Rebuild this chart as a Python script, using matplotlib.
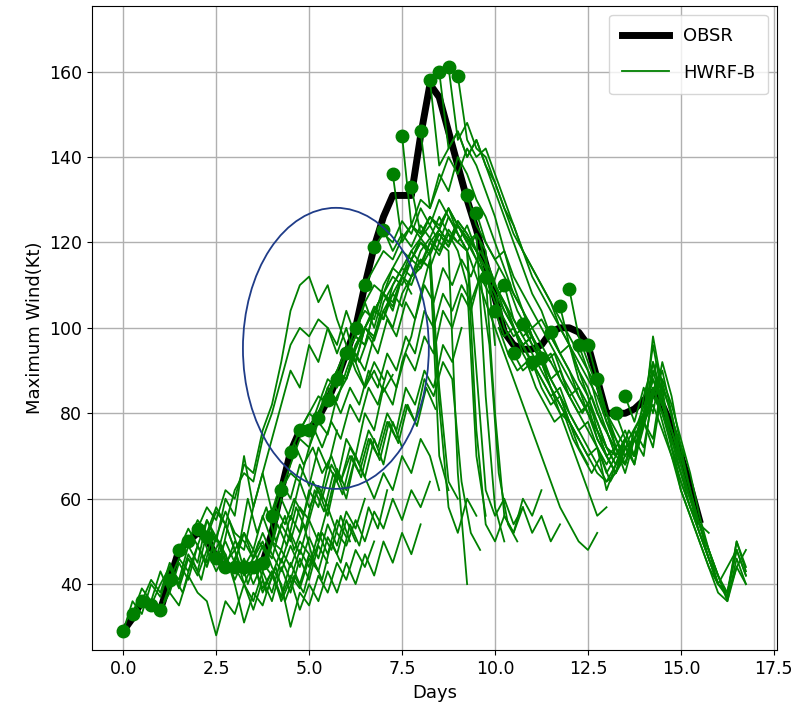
import numpy as np
import matplotlib.pyplot as plt
from matplotlib.patches import Ellipse

# observed max wind (kt), every 6 h from day 0
obs_wind = [29, 32, 36, 35, 34, 41, 48, 50, 52, 51, 46, 44, 44, 44, 44, 45,
            52, 62, 71, 76, 76, 79, 83, 88, 94, 100, 110, 119, 126, 131, 131, 131,
            145, 157, 154, 146, 138, 130, 123, 115, 107, 99, 96, 95, 95, 96, 99, 100,
            100, 99, 96, 88, 80, 80, 80, 81, 83, 85, 82, 77, 70, 63, 55]

# HWRF-B runs: start day and 6-hourly forecast values
run_start = [0.0, 0.25, 0.5, 0.75, 1.0, 1.25, 1.5, 1.75, 2.0, 2.25,
             2.5, 2.75, 3.0, 3.25, 3.5, 3.75,
             4.0, 4.25, 4.5, 4.75, 5.0, 5.25, 5.5, 5.75, 6.0, 6.25, 6.5, 6.75,
             7.0, 7.25, 7.5, 7.75, 8.0, 8.25, 8.5, 8.75, 9.0,
             9.25, 9.5, 9.75, 10.0, 10.25, 10.5, 10.75, 11.0, 11.25, 11.5, 11.75,
             12.0, 12.25, 12.5, 12.75, 13.25, 13.5,
             4.1, 4.6, 5.1, 5.6, 6.1, 3.4, 1.1, 2.1, 9.6, 10.1]

fa00 = [29, 36, 33, 40, 37, 44, 39, 46, 42, 48, 43, 47, 41, 46, 40, 45, 42, 48, 44, 50, 47]
fa01 = [33, 39, 36, 43, 38, 45, 41, 49, 44, 51, 45, 48, 42, 45, 39, 43, 37, 42, 39, 46, 43]
fa02 = [36, 41, 38, 45, 40, 47, 43, 52, 46, 54, 48, 40, 34, 41, 36, 44, 38, 46, 41, 49, 45]
fa03 = [35, 40, 44, 41, 49, 45, 55, 50, 60, 56, 70, 58, 66, 57, 64, 60, 68, 63, 72, 67, 76]
fa04 = [34, 38, 35, 42, 38, 36, 28, 36, 33, 40, 36, 43, 38, 46, 41, 48, 44, 52, 47, 55, 51]
fa05 = [41, 46, 43, 49, 45, 51, 47, 40, 31, 38, 35, 42, 37, 45, 40, 47, 43, 51, 47, 55, 50]
fa06 = [48, 53, 49, 55, 51, 57, 52, 50, 46, 52, 47, 43, 49, 44, 51, 46, 54, 49, 57, 53, 60]
fa07 = [50, 55, 52, 58, 54, 48, 52, 46, 50, 44, 40, 30, 38, 35, 42, 38, 45, 41, 48, 44, 50]
fa08 = [53, 58, 55, 62, 60, 68, 66, 76, 82, 92, 104, 110, 112, 106, 110, 102, 96, 90, 86, 92, 88]
fa09 = [51, 57, 54, 62, 66, 64, 74, 80, 88, 96, 100, 98, 102, 100, 94, 100, 92, 86, 90, 85, 89]

fl00 = [46, 50, 45, 52, 48, 56, 50, 60, 55, 64, 58, 62, 56, 66, 60, 70, 65, 74, 68, 78, 72]
fl01 = [44, 50, 48, 58, 66, 74, 82, 90, 86, 96, 92, 100, 96, 104, 98, 106, 100, 108, 104, 112, 108]
fl02 = [44, 40, 45, 38, 43, 36, 41, 34, 40, 36, 43, 38, 45, 40, 47, 42, 50, 45, 52, 47, 54]
fl03 = [44, 48, 43, 50, 45, 52, 47, 55, 50, 58, 52, 49, 55, 50, 57, 53, 60, 55, 62, 58, 64]
fl04 = [44, 49, 46, 54, 50, 58, 55, 63, 58, 67, 62, 70, 65, 60, 66, 62, 70, 66, 74, 70, 62]
fl05 = [45, 50, 48, 56, 52, 62, 58, 68, 64, 74, 70, 80, 76, 86, 82, 92, 98, 108, 116, 70, 62]

fb00 = [56, 62, 66, 64, 72, 78, 75, 84, 88, 94, 90, 98, 104, 100, 108, 112, 114, 118, 86, 64, 60]
fb01 = [62, 68, 74, 72, 80, 86, 83, 90, 96, 100, 97, 104, 108, 105, 112, 116, 114, 120, 118, 66, 40]
fb02 = [71, 76, 80, 78, 86, 90, 88, 96, 100, 104, 102, 108, 112, 110, 116, 114, 82, 58, 52, 60, 56]
fb03 = [76, 80, 84, 82, 90, 95, 92, 100, 104, 108, 105, 112, 116, 114, 120, 117, 122, 118, 110, 70, 56]
fb04 = [76, 82, 88, 86, 94, 98, 96, 104, 108, 112, 110, 116, 120, 118, 122, 119, 124, 120, 122, 118, 96]
fb05 = [79, 84, 90, 88, 95, 100, 98, 106, 110, 114, 112, 118, 121, 118, 123, 120, 118, 122, 84, 58, 50]
fb06 = [83, 88, 94, 92, 100, 105, 102, 110, 114, 118, 115, 120, 123, 120, 125, 122, 118, 112, 108, 100, 96]
fb07 = [88, 94, 98, 96, 104, 108, 106, 112, 116, 120, 117, 122, 119, 124, 121, 116, 112, 80, 56, 52, 58]
fb08 = [94, 100, 104, 102, 110, 114, 112, 118, 121, 118, 123, 120, 125, 122, 118, 114, 110, 104, 100, 96, 98]
fb09 = [100, 106, 110, 108, 114, 118, 116, 121, 124, 120, 126, 122, 118, 76, 54, 50, 56, 52, 60, 56, 62]
fb10 = [110, 114, 118, 116, 121, 124, 122, 126, 123, 128, 124, 120, 116, 112, 108, 104, 100, 96, 98, 94, 92]
fb11 = [119, 122, 120, 125, 122, 128, 124, 130, 126, 122, 118, 90, 62, 56, 60, 54, 58, 52, 56, 50, 54]

fc00 = [123, 118, 122, 119, 124, 121, 126, 122, 120, 124, 118, 114, 110, 106, 100, 96, 92, 88, 84, 80, 78]
fc01 = [136, 120, 124, 121, 126, 123, 128, 124, 121, 118, 114, 110, 106, 102, 98, 94, 90, 86, 82, 78, 74]
fc02 = [145, 124, 130, 128, 136, 132, 140, 136, 130, 126, 120, 114, 108, 104, 98, 94, 88, 84, 78, 72, 68]
fc03 = [133, 122, 126, 124, 128, 122, 118, 112, 106, 100, 94, 88, 82, 76, 70, 64, 58, 54, 50, 48, 52]
fc04 = [146, 128, 134, 140, 136, 142, 138, 132, 126, 118, 110, 104, 98, 92, 86, 80, 74, 68, 62, 56, 58]
fc05 = [158, 138, 142, 146, 140, 144, 138, 132, 126, 120, 114, 108, 104, 98, 94, 90, 84, 80, 74, 70, 72]
fc06 = [160, 142, 146, 140, 144, 138, 134, 128, 124, 118, 114, 110, 106, 100, 96, 90, 86, 80, 76, 70, 74]
fc07 = [161, 144, 148, 142, 140, 134, 128, 122, 118, 114, 110, 106, 102, 98, 94, 90, 86, 80, 76, 72, 74]
fc08 = [159, 144, 140, 142, 136, 130, 124, 118, 112, 108, 104, 100, 96, 92, 88, 84, 78, 74, 70, 74, 80]
fc09 = [131, 124, 120, 116, 118, 112, 108, 104, 100, 96, 92, 88, 84, 80, 76, 72, 70, 74, 70, 78, 84]
fc10 = [127, 120, 116, 112, 108, 104, 100, 102, 98, 94, 90, 86, 82, 78, 72, 68, 74, 70, 78, 90, 82]
fc11 = [112, 106, 102, 98, 100, 96, 92, 88, 84, 80, 76, 72, 68, 64, 66, 70, 74, 80, 88, 82, 76]
fc12 = [104, 98, 100, 94, 90, 92, 86, 82, 78, 74, 70, 66, 64, 68, 72, 70, 78, 86, 80, 74, 68]
fc13 = [110, 102, 98, 100, 96, 92, 88, 84, 80, 76, 72, 66, 70, 68, 76, 80, 88, 82, 76, 70, 62]
fc14 = [94, 90, 92, 86, 82, 84, 78, 74, 70, 72, 62, 68, 72, 70, 78, 84, 80, 72, 66, 60, 54]
fc15 = [101, 96, 92, 94, 88, 84, 86, 80, 76, 70, 66, 74, 70, 78, 82, 76, 70, 64, 58, 54, 52]
fc16 = [92, 88, 84, 86, 80, 76, 78, 72, 68, 72, 66, 74, 70, 86, 80, 74, 66, 60, 52, 46, 40]
fc17 = [93, 88, 90, 84, 80, 82, 74, 70, 66, 72, 68, 78, 92, 82, 74, 66, 58, 52, 46, 40, 38]
fc18 = [99, 94, 96, 88, 84, 78, 72, 68, 74, 70, 80, 96, 84, 76, 68, 60, 54, 48, 40, 44, 48]
fc19 = [105, 96, 90, 84, 76, 70, 66, 74, 70, 78, 98, 86, 72, 62, 56, 50, 44, 40, 38, 48, 42]
fc20 = [109, 98, 92, 86, 78, 72, 76, 70, 84, 92, 84, 72, 64, 58, 52, 46, 40, 37, 50, 43]
fc21 = [96, 90, 82, 76, 70, 74, 68, 80, 86, 78, 70, 62, 56, 50, 44, 38, 36, 46, 40]
fc22 = [96, 88, 80, 72, 68, 76, 72, 84, 90, 80, 68, 60, 54, 48, 42, 37, 44, 48]
fc23 = [88, 80, 74, 68, 74, 78, 72, 86, 80, 70, 62, 54, 48, 42, 38, 50, 44]
fc24 = [80, 74, 70, 78, 74, 88, 82, 74, 66, 56, 48, 42, 36, 44, 40]
fc25 = [84, 78, 86, 80, 92, 84, 72, 62, 54, 46, 40, 38, 48, 42]

fd00 = [58, 54, 60, 56, 64, 60, 68, 64, 72, 68, 76, 72, 80, 76, 86, 82, 90, 86, 96, 92, 100]
fd01 = [73, 68, 72, 66, 70, 64, 70, 66, 74, 70, 78, 74, 82, 78, 88, 84, 92, 88, 64, 52, 48]
fd02 = [77, 72, 78, 74, 82, 78, 86, 82, 90, 86, 94, 90, 98, 94, 104, 100, 108, 104, 112, 108, 114]
fd03 = [85, 80, 86, 82, 90, 86, 94, 90, 98, 94, 104, 100, 108, 104, 110, 106, 112, 96, 66, 54, 50]
fd04 = [96, 92, 98, 94, 102, 98, 106, 102, 110, 106, 114, 110, 116, 112, 118, 114, 108, 104, 98, 94, 90]
fd05 = [44, 50, 46, 54, 49, 58, 53, 62, 57, 66, 61, 70, 65, 74, 69, 78, 73, 82, 77, 86, 81]
fd06 = [36, 42, 38, 46, 41, 50, 45, 55, 48, 60, 52, 58, 50, 56, 48, 54, 46, 52, 48, 56, 50]
fd07 = [52, 46, 50, 43, 48, 40, 46, 38, 44, 36, 42, 38, 46, 41, 50, 45, 54, 49, 58, 53, 62]
fd08 = [120, 112, 108, 110, 104, 100, 96, 92, 94, 88, 84, 80, 84, 78, 74, 70, 76, 72, 80, 88, 84]
fd09 = [100, 94, 90, 92, 86, 82, 78, 80, 74, 70, 66, 70, 64, 68, 74, 78, 84, 92, 84, 76, 70]

run_wind = [fa00, fa01, fa02, fa03, fa04, fa05, fa06, fa07, fa08, fa09,
            fl00, fl01, fl02, fl03, fl04, fl05,
            fb00, fb01, fb02, fb03, fb04, fb05, fb06, fb07, fb08, fb09, fb10, fb11,
            fc00, fc01, fc02, fc03, fc04, fc05, fc06, fc07, fc08, fc09, fc10,
            fc11, fc12, fc13, fc14, fc15, fc16, fc17, fc18, fc19, fc20, fc21,
            fc22, fc23, fc24, fc25,
            fd00, fd01, fd02, fd03, fd04, fd05, fd06, fd07, fd08, fd09]

fig = plt.figure(figsize=(8, 7.25), dpi=100)
ax = fig.add_axes([0.115, 0.103, 0.856, 0.889])

obs_days = np.arange(len(obs_wind)) * 0.25
ax.plot(obs_days, obs_wind, color='black', lw=5, label='OBSR', zorder=2)

for i, (t0, w) in enumerate(zip(run_start, run_wind)):
    t = t0 + np.arange(len(w)) * 0.25
    ax.plot(t, w, color='green', lw=1.3, zorder=3,
            label='HWRF-B' if i == 0 else None)
    if i < 54:
        ax.plot(t0, w[0], 'o', color='green', ms=9, zorder=4)

ax.add_patch(Ellipse((5.72, 95.2), width=5.0, height=65.8, fill=False,
                     edgecolor='#1f3c88', lw=1.3, zorder=5))

ax.set_xlim(-0.84, 17.58)
ax.set_ylim(24.5, 175.4)
ax.set_xlabel('Days', fontsize=13)
ax.set_ylabel('Maximum Wind(Kt)', fontsize=13)
ax.tick_params(labelsize=12.5)
ax.grid(True, color='#b0b0b0', lw=1.0)
ax.set_axisbelow(True)
ax.legend(loc='upper right', fontsize=13, handlelength=2.6,
          labelspacing=1.0, borderpad=0.7)

fig.savefig('out.png', dpi=100)
